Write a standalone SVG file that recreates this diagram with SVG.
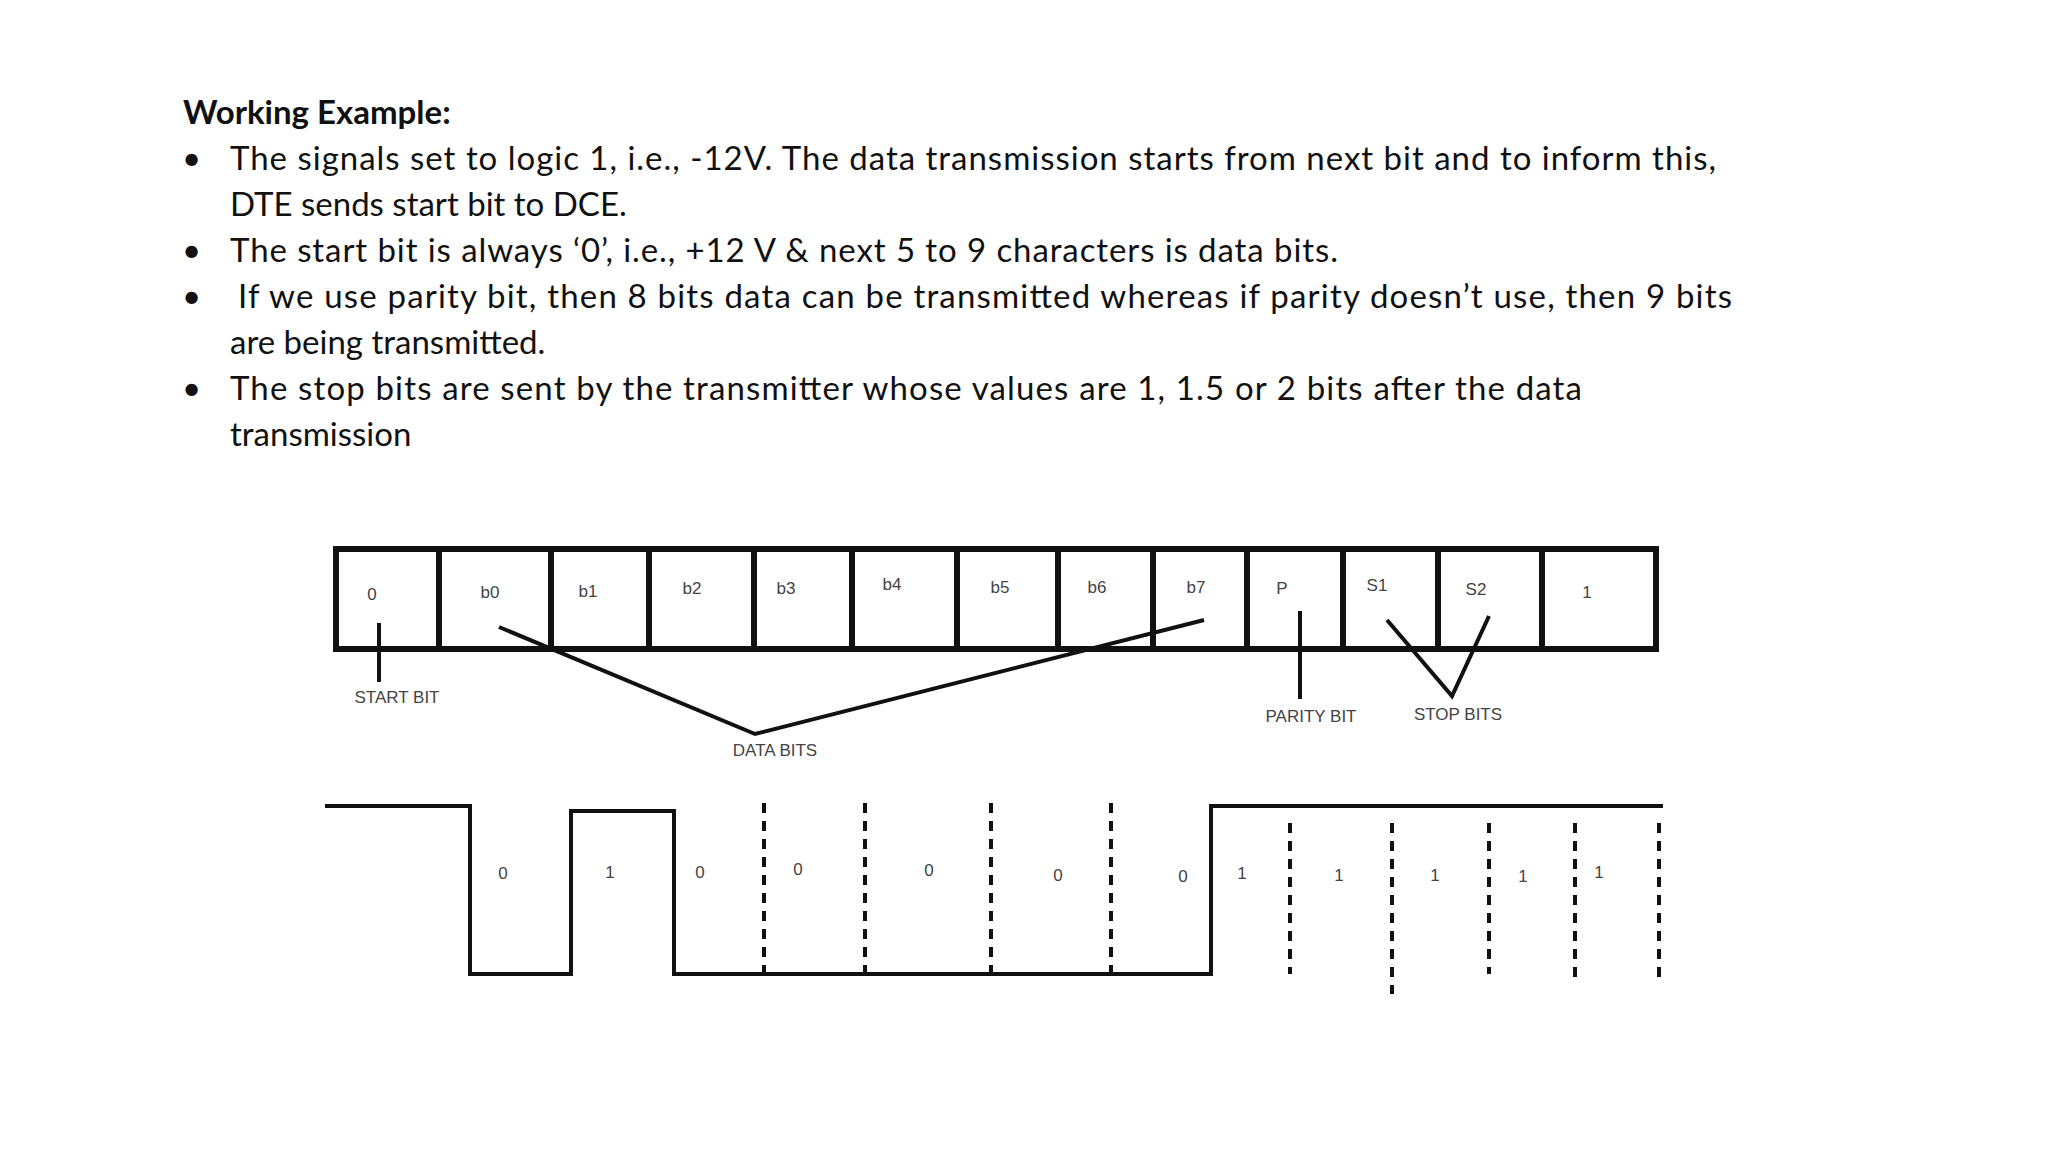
<svg xmlns="http://www.w3.org/2000/svg" width="2048" height="1152" viewBox="0 0 2048 1152">
<style>
.t{font-family:Lato,"Open Sans",sans-serif;font-size:33px;fill:#111}
.b{font-weight:bold}
.l{font-family:"Liberation Sans",Arial,sans-serif;font-size:17px;fill:#444;text-anchor:middle}
.k{fill:none;stroke:#111;stroke-width:6}
.w{fill:none;stroke:#111;stroke-width:4}
.d{fill:none;stroke:#111;stroke-width:4;stroke-dasharray:10 8}
</style>
<rect width="2048" height="1152" fill="#fff"/>
<g id="text">
<text class="t b" x="183" y="124">Working Example:</text>
<text class="t" x="182" y="170">•</text>
<text class="t" x="230" y="170" textLength="1486" lengthAdjust="spacing">The signals set to logic 1, i.e., -12V. The data transmission starts from next bit and to inform this,</text>
<text class="t" x="230" y="216">DTE sends start bit to DCE.</text>
<text class="t" x="182" y="262">•</text>
<text class="t" x="230" y="262" textLength="1108" lengthAdjust="spacing">The start bit is always ‘0’, i.e., +12 V &amp; next 5 to 9 characters is data bits.</text>
<text class="t" x="182" y="308">•</text>
<text class="t" x="238" y="308" textLength="1494" lengthAdjust="spacing">If we use parity bit, then 8 bits data can be transmitted whereas if parity doesn’t use, then 9 bits</text>
<text class="t" x="230" y="354">are being transmitted.</text>
<text class="t" x="182" y="400">•</text>
<text class="t" x="230" y="400" textLength="1352" lengthAdjust="spacing">The stop bits are sent by the transmitter whose values are 1, 1.5 or 2 bits after the data</text>
<text class="t" x="230" y="446">transmission</text>
</g>
<g id="frame">
<rect class="k" x="336" y="549" width="1320" height="100"/>
<path class="k" d="M439 549V649M551 549V649M649 549V649M754 549V649M852 549V649M957 549V649M1058 549V649M1153 549V649M1247 549V649M1343 549V649M1438 549V649M1542 549V649"/>
<g class="l">
<text x="372" y="600">0</text><text x="490" y="598">b0</text><text x="588" y="597">b1</text>
<text x="692" y="594">b2</text><text x="786" y="594">b3</text><text x="892" y="590">b4</text>
<text x="1000" y="593">b5</text><text x="1097" y="593">b6</text><text x="1196" y="593">b7</text>
<text x="1282" y="594">P</text><text x="1377" y="591">S1</text><text x="1476" y="595">S2</text>
<text x="1587" y="598">1</text>
</g>
</g>
<g id="connectors">
<path class="w" d="M379 623V682"/>
<path class="w" d="M499 627L755 734L1204 620"/>
<path class="w" d="M1300 611V699"/>
<path class="w" d="M1387 620L1452 696L1489 616"/>
</g>
<g id="labels" class="l">
<text x="397" y="703">START BIT</text>
<text x="775" y="756">DATA BITS</text>
<text x="1311" y="722">PARITY BIT</text>
<text x="1458" y="720">STOP BITS</text>
</g>
<g id="waveform">
<path class="w" d="M325 806H470V974H571V811H674V974H1211V806H1663"/>
<path class="d" d="M764 803V974M865 803V974M991 803V974M1111 803V974M1290 823V974M1392 823V994M1489 823V974M1575 823V984M1659 823V984"/>
<g class="l">
<text x="503" y="879">0</text><text x="610" y="878">1</text><text x="700" y="878">0</text>
<text x="798" y="875">0</text><text x="929" y="876">0</text><text x="1058" y="881">0</text>
<text x="1183" y="882">0</text><text x="1242" y="879">1</text><text x="1339" y="881">1</text>
<text x="1435" y="881">1</text><text x="1523" y="882">1</text><text x="1599" y="878">1</text>
</g>
</g>
</svg>
